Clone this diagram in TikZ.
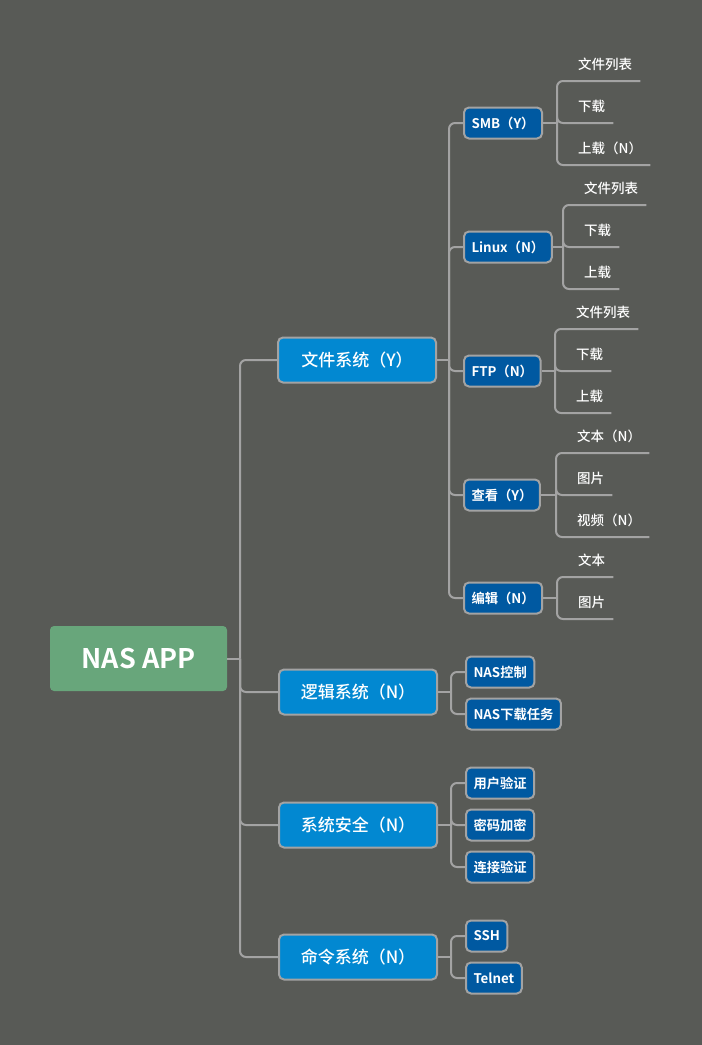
\documentclass[tikz,border=0pt]{standalone}
\usepackage{fontspec}
\setmainfont{Noto Sans CJK SC}[BoldFont={Noto Sans CJK SC Bold}]
\newfontfamily\medfont{Noto Sans CJK SC Medium}
\usepackage{xcolor}
\usetikzlibrary{positioning}
\definecolor{bgcol}{HTML}{585A56}
\definecolor{linecol}{HTML}{A3A3A3}
\definecolor{rootgreen}{HTML}{68A67B}
\definecolor{topicblue}{HTML}{0288D1}
\definecolor{subblue}{HTML}{0059A1}

\begin{document}
\begin{tikzpicture}[x=1pt, y=-1pt,
  rootbox/.style={fill=rootgreen, rounded corners=4pt, minimum width=177pt, minimum height=65pt, text=white, font=\fontsize{27}{30}\selectfont\bfseries},
  topicbox/.style={draw=linecol, line width=2pt, fill=topicblue, rounded corners=5pt, minimum width=158pt, minimum height=45pt, text=white, font=\fontsize{17}{20}\selectfont\medfont},
  subbox/.style={draw=linecol, line width=2pt, fill=subblue, rounded corners=5pt, minimum height=31pt, inner xsep=7.5pt, anchor=west, text=white, font=\fontsize{13.3}{15}\selectfont\bfseries},
  leafitem/.style={anchor=south west, inner xsep=8pt, inner ysep=9.5pt, text height=10pt, text depth=2pt, text=white, font=\fontsize{13.5}{15}\selectfont\medfont},
  conn/.style={draw=linecol, line width=2pt, rounded corners=6pt}]
    % background
    \fill[bgcol] (0,0) rectangle (702,1045);
    \useasboundingbox (0,0) rectangle (702,1045);

    % root and main topics
    \node[rootbox] (nasapp) at (138.5,658.5) {NAS APP};
    \node[topicbox] (filesys) at (357,360) {文件系统（Y）};
    \node[topicbox] (logicsys) at (358,692) {逻辑系统（N）};
    \node[topicbox] (secsys) at (358,825) {系统安全（N）};
    \node[topicbox] (cmdsys) at (358,957) {命令系统（N）};

    % file system branches
    \node[subbox] (smb) at (463,123) {SMB（Y）};
    \node[subbox] (linux) at (463,247) {Linux（N）};
    \node[subbox] (ftp) at (463,371) {FTP（N）};
    \node[subbox] (view) at (463,495) {查看（Y）};
    \node[subbox] (edit) at (463,598) {编辑（N）};

    % other branches
    \node[subbox] (naskz) at (465,672) {NAS控制};
    \node[subbox] (nasdl) at (465,714) {NAS下载任务};
    \node[subbox] (userauth) at (465,783) {用户验证};
    \node[subbox] (pwcrypt) at (465,825) {密码加密};
    \node[subbox] (connauth) at (465,867) {连接验证};
    \node[subbox] (ssh) at (465,936) {SSH};
    \node[subbox] (telnet) at (465,978) {Telnet};

    % leaves
    \node[leafitem] (smb1) at (570,81) {文件列表};
    \node[leafitem] (smb2) at (570,123) {下载};
    \node[leafitem] (smb3) at (570,165) {上载（N）};
    \node[leafitem] (linux1) at (576,205) {文件列表};
    \node[leafitem] (linux2) at (576,247) {下载};
    \node[leafitem] (linux3) at (576,289) {上载};
    \node[leafitem] (ftp1) at (568,329) {文件列表};
    \node[leafitem] (ftp2) at (568,371) {下载};
    \node[leafitem] (ftp3) at (568,413) {上载};
    \node[leafitem] (view1) at (569,453) {文本（N）};
    \node[leafitem] (view2) at (569,495) {图片};
    \node[leafitem] (view3) at (569,537) {视频（N）};
    \node[leafitem] (edit1) at (570,577) {文本};
    \node[leafitem] (edit2) at (570,619) {图片};

    % junctions
    \coordinate (rootj) at (240,658.5);
    \coordinate (filej) at (449,360);
    \coordinate (logicj) at (451,692);
    \coordinate (secj) at (451,825);
    \coordinate (cmdj) at (451,957);
    \coordinate (smbj) at (557,123);
    \coordinate (linuxj) at (563,247);
    \coordinate (ftpj) at (555,371);
    \coordinate (viewj) at (556,495);
    \coordinate (editj) at (557,598);

    % connectors
    \draw[conn] (nasapp.east) -- (rootj);
    \draw[conn] (rootj) |- (filesys.west);
    \draw[conn] (rootj) |- (logicsys.west);
    \draw[conn] (rootj) |- (secsys.west);
    \draw[conn] (rootj) |- (cmdsys.west);

    \draw[conn] (filesys.east) -- (filej);
    \draw[conn] (filej) |- (smb.west);
    \draw[conn] (filej) |- (linux.west);
    \draw[conn] (filej) |- (ftp.west);
    \draw[conn] (filej) |- (view.west);
    \draw[conn] (filej) |- (edit.west);

    \draw[conn] (logicsys.east) -- (logicj);
    \draw[conn] (logicj) |- (naskz.west);
    \draw[conn] (logicj) |- (nasdl.west);
    \draw[conn] (secsys.east) -- (secj);
    \draw[conn] (secj) |- (userauth.west);
    \draw[conn] (secj) |- (pwcrypt.west);
    \draw[conn] (secj) |- (connauth.west);
    \draw[conn] (cmdsys.east) -- (cmdj);
    \draw[conn] (cmdj) |- (ssh.west);
    \draw[conn] (cmdj) |- (telnet.west);

    \draw[conn] (smb.east) -- (smbj);
    \draw[conn] (smbj) |- (smb1.south east);
    \draw[conn] (smbj) |- (smb2.south east);
    \draw[conn] (smbj) |- (smb3.south east);
    \draw[conn] (linux.east) -- (linuxj);
    \draw[conn] (linuxj) |- (linux1.south east);
    \draw[conn] (linuxj) |- (linux2.south east);
    \draw[conn] (linuxj) |- (linux3.south east);
    \draw[conn] (ftp.east) -- (ftpj);
    \draw[conn] (ftpj) |- (ftp1.south east);
    \draw[conn] (ftpj) |- (ftp2.south east);
    \draw[conn] (ftpj) |- (ftp3.south east);
    \draw[conn] (view.east) -- (viewj);
    \draw[conn] (viewj) |- (view1.south east);
    \draw[conn] (viewj) |- (view2.south east);
    \draw[conn] (viewj) |- (view3.south east);
    \draw[conn] (edit.east) -- (editj);
    \draw[conn] (editj) |- (edit1.south east);
    \draw[conn] (editj) |- (edit2.south east);
\end{tikzpicture}
\end{document}
